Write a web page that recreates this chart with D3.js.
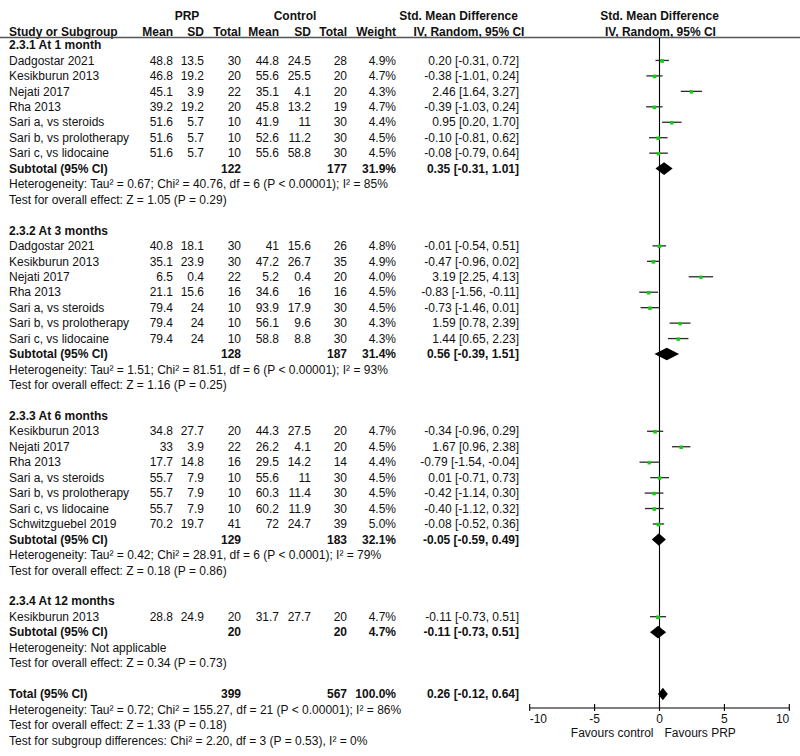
<!DOCTYPE html>
<html><head><meta charset="utf-8">
<script src="https://cdn.jsdelivr.net/npm/d3@7"></script>
<style>
html,body{margin:0;padding:0;background:#fff;}
svg text{font-family:"Liberation Sans",Arial,sans-serif;font-size:12px;fill:#111;}
</style></head>
<body><svg id="chart" width="800" height="756"></svg>
<script>
// ---------- data ----------
const groupTitles = ["2.3.1 At 1 month","2.3.2 At 3 months","2.3.3 At 6 months","2.3.4 At 12 months"];
const studyGroup = [0,0,0,0,0,0,0, 1,1,1,1,1,1,1, 2,2,2,2,2,2,2, 3];
const studyNames = [
 "Dadgostar 2021","Kesikburun 2013","Nejati 2017","Rha 2013","Sari a, vs steroids","Sari b, vs prolotherapy","Sari c, vs lidocaine",
 "Dadgostar 2021","Kesikburun 2013","Nejati 2017","Rha 2013","Sari a, vs steroids","Sari b, vs prolotherapy","Sari c, vs lidocaine",
 "Kesikburun 2013","Nejati 2017","Rha 2013","Sari a, vs steroids","Sari b, vs prolotherapy","Sari c, vs lidocaine","Schwitzguebel 2019",
 "Kesikburun 2013"];
const prpMean  = [48.8,46.8,45.1,39.2,51.6,51.6,51.6, 40.8,35.1,6.5,21.1,79.4,79.4,79.4, 34.8,33,17.7,55.7,55.7,55.7,70.2, 28.8];
const prpSD    = [13.5,19.2,3.9,19.2,5.7,5.7,5.7, 18.1,23.9,0.4,15.6,24,24,24, 27.7,3.9,14.8,7.9,7.9,7.9,19.7, 24.9];
const prpTotal = [30,20,22,20,10,10,10, 30,30,22,16,10,10,10, 20,22,16,10,10,10,41, 20];
const ctlMean  = [44.8,55.6,35.1,45.8,41.9,52.6,55.6, 41,47.2,5.2,34.6,93.9,56.1,58.8, 44.3,26.2,29.5,55.6,60.3,60.2,72, 31.7];
const ctlSD    = [24.5,25.5,4.1,13.2,11,11.2,58.8, 15.6,26.7,0.4,16,17.9,9.6,8.8, 27.5,4.1,14.2,11,11.4,11.9,24.7, 27.7];
const ctlTotal = [28,20,20,19,30,30,30, 26,35,20,16,30,30,30, 20,20,14,30,30,30,39, 20];
const weights  = [4.9,4.7,4.3,4.7,4.4,4.5,4.5, 4.8,4.9,4.0,4.5,4.5,4.3,4.3, 4.7,4.5,4.4,4.5,4.5,4.5,5.0, 4.7];
const smd      = [0.20,-0.38,2.46,-0.39,0.95,-0.10,-0.08, -0.01,-0.47,3.19,-0.83,-0.73,1.59,1.44, -0.34,1.67,-0.79,0.01,-0.42,-0.40,-0.08, -0.11];
const smdLo    = [-0.31,-1.01,1.64,-1.03,0.20,-0.81,-0.79, -0.54,-0.96,2.25,-1.56,-1.46,0.78,0.65, -0.96,0.96,-1.54,-0.71,-1.14,-1.12,-0.52, -0.73];
const smdHi    = [0.72,0.24,3.27,0.24,1.70,0.62,0.64, 0.51,0.02,4.13,-0.11,0.01,2.39,2.23, 0.29,2.38,-0.04,0.73,0.30,0.32,0.36, 0.51];

const subPrpTotal = [122,128,129,20];
const subCtlTotal = [177,187,183,20];
const subWeight   = [31.9,31.4,32.1,4.7];
const subSmd      = [0.35,0.56,-0.05,-0.11];
const subLo       = [-0.31,-0.39,-0.59,-0.73];
const subHi       = [1.01,1.51,0.49,0.51];
const subHet = [
 "Heterogeneity: Tau² = 0.67; Chi² = 40.76, df = 6 (P < 0.00001); I² = 85%",
 "Heterogeneity: Tau² = 1.51; Chi² = 81.51, df = 6 (P < 0.00001); I² = 93%",
 "Heterogeneity: Tau² = 0.42; Chi² = 28.91, df = 6 (P < 0.0001); I² = 79%",
 "Heterogeneity: Not applicable"];
const subTest = [
 "Test for overall effect: Z = 1.05 (P = 0.29)",
 "Test for overall effect: Z = 1.16 (P = 0.25)",
 "Test for overall effect: Z = 0.18 (P = 0.86)",
 "Test for overall effect: Z = 0.34 (P = 0.73)"];

const totalPrp = 399, totalCtl = 567, totalWeight = 100.0;
const totalSmd = 0.26, totalLo = -0.12, totalHi = 0.64;
const totalNotes = [
 "Heterogeneity: Tau² = 0.72; Chi² = 155.27, df = 21 (P < 0.00001); I² = 86%",
 "Test for overall effect: Z = 1.33 (P = 0.18)",
 "Test for subgroup differences: Chi² = 2.20, df = 3 (P = 0.53), I² = 0%"];

const axisTicks = [-10,-5,0,5,10];
const favourLeft = "Favours control", favourRight = "Favours PRP";

// ---------- build rows ----------
const rows = [];
groupTitles.forEach((g, gi) => {
  rows.push({type:"group", text:g});
  studyNames.forEach((n, i) => { if (studyGroup[i] === gi) rows.push({type:"study", i}); });
  rows.push({type:"sub", gi});
  rows.push({type:"note", text:subHet[gi]});
  rows.push({type:"note", text:subTest[gi]});
  rows.push({type:"blank"});
});
rows.push({type:"total"});
totalNotes.forEach(t => rows.push({type:"note", text:t}));

// ---------- scales ----------
const svg = d3.select("#chart");
const y = d3.scaleLinear().domain([0, rows.length - 1]).range([45, 740.3]);
const x = d3.scaleLinear().domain([-10, 10]).range([529.7, 789.3]);
const sq = d3.scaleSqrt().domain([0, 5]).range([0, 3.7]);

const col = {name:9, pm:173, psd:204, pt:241, cm:279, csd:311, ct:347, w:396, ci:519};
const fmt1 = d => d.toFixed(1) + "%";
const fmtCI = (e,l,h) => `${e.toFixed(2)} [${l.toFixed(2)}, ${h.toFixed(2)}]`;

function txt(xp, yp, s, anchor, bold) {
  svg.append("text").attr("x", xp).attr("y", yp).attr("dy", "0.35em")
    .attr("text-anchor", anchor || "start")
    .attr("font-weight", bold ? "bold" : null).text(s);
}

// ---------- header ----------
txt(187, 16, "PRP", "middle", true);
txt(295, 16, "Control", "middle", true);
txt(col.name, 31.5, "Study or Subgroup", "start", true);
txt(col.pm, 31.5, "Mean", "end", true);
txt(col.psd, 31.5, "SD", "end", true);
txt(col.pt, 31.5, "Total", "end", true);
txt(col.cm, 31.5, "Mean", "end", true);
txt(col.csd, 31.5, "SD", "end", true);
txt(col.ct, 31.5, "Total", "end", true);
txt(col.w, 31.5, "Weight", "end", true);
txt(458.5, 16, "Std. Mean Difference", "middle", true);
txt(469, 31.5, "IV, Random, 95% CI", "middle", true);
txt(x(0), 16, "Std. Mean Difference", "middle", true);
txt(x(0) + 1, 31.5, "IV, Random, 95% CI", "middle", true);
svg.append("line").attr("x1", 0).attr("x2", 800).attr("y1", 37.5).attr("y2", 37.5)
  .attr("stroke", "#555").attr("stroke-width", 1.3);

// ---------- zero line ----------
const axisY = 708;
svg.append("line").attr("x1", x(0)).attr("x2", x(0)).attr("y1", 38).attr("y2", axisY)
  .attr("stroke", "#000").attr("stroke-width", 1.1);

// ---------- rows ----------
rows.forEach((r, k) => {
  const yy = y(k);
  if (r.type === "group") txt(col.name, yy, r.text, "start", true);
  else if (r.type === "note") txt(col.name, yy, r.text, "start", false);
  else if (r.type === "study") {
    const i = r.i;
    txt(col.name, yy, studyNames[i]);
    txt(col.pm, yy, String(prpMean[i]), "end");
    txt(col.psd, yy, String(prpSD[i]), "end");
    txt(col.pt, yy, String(prpTotal[i]), "end");
    txt(col.cm, yy, String(ctlMean[i]), "end");
    txt(col.csd, yy, String(ctlSD[i]), "end");
    txt(col.ct, yy, String(ctlTotal[i]), "end");
    txt(col.w, yy, fmt1(weights[i]), "end");
    txt(col.ci, yy, fmtCI(smd[i], smdLo[i], smdHi[i]), "end");
    svg.append("line").attr("x1", x(smdLo[i])).attr("x2", x(smdHi[i]))
      .attr("y1", yy).attr("y2", yy).attr("stroke", "#2a2a2a").attr("stroke-width", 1.3);
    const s = sq(weights[i]);
    svg.append("rect").attr("x", x(smd[i]) - s/2).attr("y", yy - s/2 + 0.5)
      .attr("width", s).attr("height", s).attr("fill", "#11cc11");
  } else if (r.type === "sub" || r.type === "total") {
    const isT = r.type === "total";
    const g = r.gi;
    txt(col.name, yy, isT ? "Total (95% CI)" : "Subtotal (95% CI)", "start", true);
    txt(col.pt, yy, String(isT ? totalPrp : subPrpTotal[g]), "end", true);
    txt(col.ct, yy, String(isT ? totalCtl : subCtlTotal[g]), "end", true);
    txt(col.w, yy, fmt1(isT ? totalWeight : subWeight[g]), "end", true);
    const e = isT ? totalSmd : subSmd[g], l = isT ? totalLo : subLo[g], h = isT ? totalHi : subHi[g];
    txt(col.ci, yy, fmtCI(e, l, h), "end", true);
    const hh = 6.3;
    svg.append("path")
      .attr("d", `M${x(l)},${yy} L${x(e)},${yy - hh} L${x(h)},${yy} L${x(e)},${yy + hh} Z`)
      .attr("fill", "#000");
  }
});

// ---------- axis ----------
svg.append("line").attr("x1", x(-10)).attr("x2", x(10)).attr("y1", axisY).attr("y2", axisY)
  .attr("stroke", "#000").attr("stroke-width", 1.1);
axisTicks.forEach((t, j) => {
  svg.append("line").attr("x1", x(t)).attr("x2", x(t)).attr("y1", axisY - 4).attr("y2", axisY + 3)
    .attr("stroke", "#000").attr("stroke-width", 1.1);
  const anchor = j === 0 ? "start" : (j === axisTicks.length - 1 ? "end" : "middle");
  txt(x(t), axisY + 11, String(t), anchor);
});
txt(x(0) - 6, axisY + 25, favourLeft, "end");
txt(x(0) + 5, axisY + 25, favourRight, "start");
</script>
</body></html>
